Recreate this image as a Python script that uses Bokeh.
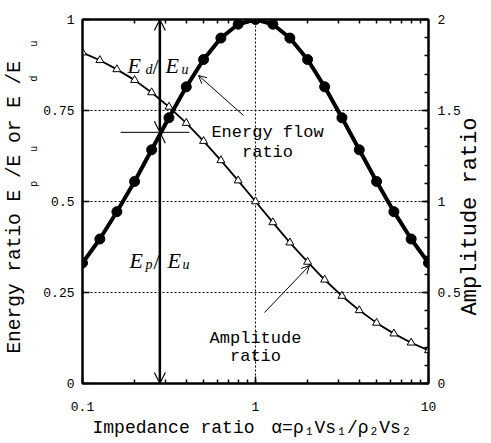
import math
from bokeh.plotting import figure
from bokeh.models import (Range1d, LinearAxis, LogAxis, SingleIntervalTicker, FixedTicker,
                          NumeralTickFormatter, Label, Arrow, OpenHead)
from bokeh.embed import file_html
from bokeh.resources import INLINE

# ---------------- data ----------------
alpha = [0.1, 0.126, 0.158, 0.2, 0.251, 0.316, 0.398, 0.501, 0.631, 0.794, 1.0,
         1.26, 1.58, 2.0, 2.51, 3.16, 3.98, 5.01, 6.31, 7.94, 10.0]
energy_flow = [0.331, 0.397, 0.472, 0.555, 0.642, 0.730, 0.815, 0.890, 0.949, 0.987, 1.0,
               0.987, 0.949, 0.890, 0.815, 0.730, 0.642, 0.555, 0.472, 0.397, 0.331]
amplitude = [1.818, 1.776, 1.726, 1.667, 1.599, 1.520, 1.431, 1.332, 1.226, 1.115, 1.0,
             0.885, 0.774, 0.668, 0.570, 0.481, 0.402, 0.333, 0.274, 0.224, 0.182]
x_major_ticks = [0.1, 1, 10]
x_minor_ticks = [0.2, 0.3, 0.4, 0.5, 0.6, 0.7, 0.8, 0.9, 1, 2, 3, 4, 5, 6, 7, 8, 9]
x_title = "Impedance ratio"
x_formula = "\u03b1=\u03c1\u2081Vs\u2081/\u03c1\u2082Vs\u2082"
y_title = "Energy ratio E /E  or E /E"
y_title_subs = ["p", "u", "d", "u"]
y2_title = "Amplitude ratio"
arrow_alpha = 0.28      # position of the double arrow
split_ratio = 0.69      # energy ratio where the arrow is split
bar_alpha = [0.166, 0.415]  # extent of the short horizontal bar

# ---------------- geometry helpers ----------------
FL, FR, FT, FB = 81, 427, 19, 383
X0, X1 = 0.1, 10.0


def px2x(px):
    return 10 ** (math.log10(X0) + (px - FL) / (FR - FL) * (math.log10(X1) - math.log10(X0)))


def px2y(py):
    return (FB - py) / (FB - FT)


MONO = "Liberation Mono"
SERIF = "Liberation Serif"

p = figure(x_axis_type="log", x_range=Range1d(X0, X1), y_range=Range1d(0, 1),
           frame_width=FR - FL, frame_height=FB - FT,
           min_border_left=FL, min_border_right=491 - FR,
           min_border_top=FT, min_border_bottom=443 - FB,
           output_backend="svg", toolbar_location=None,
           background_fill_color="white", border_fill_color="white")
p.outline_line_color = "black"
p.outline_line_width = 2
p.extra_y_ranges = {"amp": Range1d(0, 2)}

# left axis
yl = p.yaxis[0]
yl.ticker = SingleIntervalTicker(interval=0.25, num_minor_ticks=0)
yl.formatter = NumeralTickFormatter(format="0.[00]")
# bottom axis
xb = p.xaxis[0]
xb.ticker = FixedTicker(ticks=x_major_ticks, minor_ticks=x_minor_ticks)
xb.formatter = NumeralTickFormatter(format="0.[0]")
# top axis (ticks only)
xt = LogAxis(ticker=FixedTicker(ticks=[], minor_ticks=x_minor_ticks))
p.add_layout(xt, "above")
# right axis
yr = LinearAxis(y_range_name="amp", ticker=SingleIntervalTicker(interval=0.5, num_minor_ticks=5),
                formatter=NumeralTickFormatter(format="0.[0]"))
p.add_layout(yr, "right")

for ax in (yl, xb, xt, yr):
    ax.axis_line_width = 2
    ax.axis_line_color = "black"
    ax.major_tick_in = 7
    ax.major_tick_out = 0
    ax.minor_tick_in = 4
    ax.minor_tick_out = 0
    ax.major_tick_line_width = 1.5
    ax.minor_tick_line_width = 1.5
    ax.major_tick_line_color = "black"
    ax.minor_tick_line_color = "black"
    ax.major_label_text_font = MONO
    ax.major_label_text_color = "black"
    ax.major_label_text_font_size = "13px"
yl.major_label_standoff = 8
yr.major_label_standoff = 9
xb.major_label_standoff = 18
xt.major_label_standoff = 0


def text_axis(ax, font, size, style="normal", standoff=0):
    ax.axis_line_color = None
    ax.major_tick_line_color = None
    ax.minor_tick_line_color = None
    ax.major_tick_in = 0
    ax.major_tick_out = 0
    ax.minor_tick_in = 0
    ax.minor_tick_out = 0
    ax.major_label_text_font = font
    ax.major_label_text_font_size = f"{size}px"
    ax.major_label_text_font_style = style
    ax.major_label_text_color = "black"
    ax.major_label_standoff = standoff
    return ax


# ---- axis titles, drawn as tick labels of label-only axes so they sit where the reference has them
MAIN_SIZE = 19.5
adv = 0.6 * MAIN_SIZE
main_len = len(y_title) * adv
start_px = (FT + FB) / 2 + main_len / 2
slot_px = [start_px - (i + 0.5) * adv for i in (14, 17, 23, 26)]
sub_ticks = [round(px2y(v), 5) for v in slot_px]
ys = LinearAxis(ticker=FixedTicker(ticks=sub_ticks, minor_ticks=[]),
                major_label_overrides=dict(zip(sub_ticks, y_title_subs)),
                major_label_orientation="vertical")
text_axis(ys, MONO, 10.5, standoff=0)
ys.axis_label = y_title
ys.axis_label_text_font = MONO
ys.axis_label_text_font_size = f"{MAIN_SIZE}px"
ys.axis_label_text_font_style = "normal"
ys.axis_label_text_color = "black"
ys.axis_label_standoff = 0
p.add_layout(ys, "left")

# x title and formula share one label row
t_x1 = round(px2x(172), 5)
t_x2 = round(px2x(340), 5)
xs1 = LogAxis(ticker=FixedTicker(ticks=[t_x1, t_x2], minor_ticks=[]),
              major_label_overrides={t_x1: x_title, t_x2: x_formula})
text_axis(xs1, MONO, 18, standoff=4)
p.add_layout(xs1, "below")

# right title: the label starts at the tick and runs upwards
Y2_SIZE = 22
y2_len = len(y2_title) * 0.6 * Y2_SIZE
t_y2 = round(2 * px2y(216 + y2_len / 2), 5)
yrs = LinearAxis(y_range_name="amp", ticker=FixedTicker(ticks=[t_y2], minor_ticks=[]),
                 major_label_overrides={t_y2: y2_title},
                 major_label_orientation=math.pi / 2)
text_axis(yrs, MONO, Y2_SIZE, standoff=7)
p.add_layout(yrs, "right")

p.ygrid.ticker = SingleIntervalTicker(interval=0.25, num_minor_ticks=0)
p.xgrid.ticker = FixedTicker(ticks=x_major_ticks)
for g in (p.xgrid[0], p.ygrid[0]):
    g.grid_line_color = "black"
    g.grid_line_dash = "2 2"
    g.grid_line_width = 1

# ---------------- curves ----------------
p.line(alpha, amplitude, y_range_name="amp", line_color="black", line_width=1.8)
p.scatter(alpha, amplitude, y_range_name="amp", marker="triangle", size=8,
          fill_color="white", line_color="black", line_width=1)
p.line(alpha, energy_flow, line_color="black", line_width=4)
p.scatter(alpha, energy_flow, marker="circle", size=10, fill_color="black", line_color="black")

# ---------------- arrows ----------------
p.add_layout(Arrow(x_start=arrow_alpha, y_start=split_ratio, x_end=arrow_alpha, y_end=1.0,
                   start=OpenHead(size=11, line_width=1.2), end=OpenHead(size=11, line_width=1.2),
                   line_width=2.5, line_color="black"))
p.add_layout(Arrow(x_start=arrow_alpha, y_start=0.0, x_end=arrow_alpha, y_end=split_ratio,
                   start=OpenHead(size=11, line_width=1.2), end=OpenHead(size=11, line_width=1.2),
                   line_width=2.5, line_color="black"))
p.line(bar_alpha, [split_ratio, split_ratio], line_color="black", line_width=1)

p.add_layout(Arrow(x_start=px2x(242), y_start=px2y(115), x_end=px2x(197), y_end=px2y(75),
                   end=OpenHead(size=8, line_width=1), line_width=1, line_color="black"))
p.add_layout(Arrow(x_start=px2x(263), y_start=px2y(312), x_end=px2x(308), y_end=px2y(265),
                   end=OpenHead(size=8, line_width=1), line_width=1, line_color="black"))


# ---------------- texts inside the frame ----------------
def lab(xp, yp, text, font=MONO, size=17, style="normal", align="left"):
    p.add_layout(Label(x=px2x(xp), y=px2y(yp), text=text, text_font=font,
                       text_font_size=f"{size}px", text_font_style=style,
                       text_align=align, text_baseline="alphabetic", text_color="black"))


# E_d / E_u
lab(126, 65, "E", SERIF, 22, "italic")
lab(144, 69, "d", SERIF, 14, "italic")
lab(151, 66, "/", SERIF, 22, "normal")
lab(164, 65, "E", SERIF, 22, "italic")
lab(180, 69, "u", SERIF, 14, "italic")
# E_p / E_u
lab(128, 260, "E", SERIF, 22, "italic")
lab(144, 264, "p", SERIF, 14, "italic")
lab(152, 261, "/", SERIF, 22, "normal")
lab(166, 260, "E", SERIF, 22, "italic")
lab(181, 264, "u", SERIF, 14, "italic")

lab(266, 132, "Energy flow", size=17, align="center")
lab(266, 152, "ratio", size=17, align="center")
lab(254, 338, "Amplitude", size=17, align="center")
lab(254, 356, "ratio", size=17, align="center")

open("out.html", "w").write(file_html(p, INLINE))
